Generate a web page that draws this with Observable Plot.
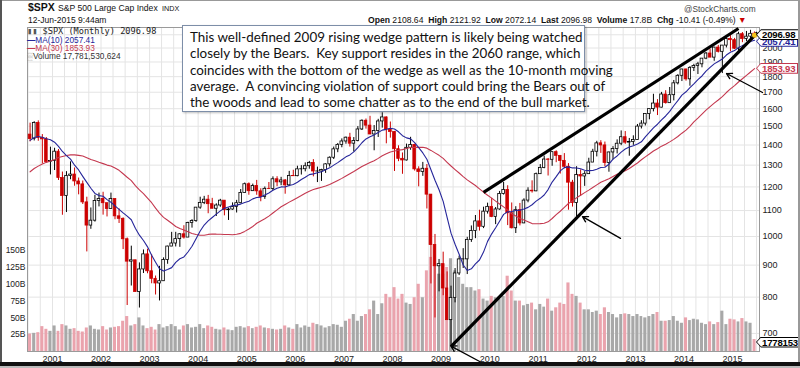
<!DOCTYPE html>
<html><head><meta charset="utf-8">
<script src="https://cdn.jsdelivr.net/npm/d3@7"></script>
<script src="https://cdn.jsdelivr.net/npm/@observablehq/plot@0.6"></script>
<style>
body{margin:0;background:#fff;}
#wrap{position:relative;width:800px;height:368px;overflow:hidden;background:#fff;font-family:"Liberation Sans",Arial,sans-serif;color:#111;}
.layer{position:absolute;left:0;top:0;}
.abs{position:absolute;white-space:nowrap;}
.box{position:absolute;height:11px;clip-path:polygon(0 50%,5px 0,100% 0,100% 100%,5px 100%);}
.box .in{position:absolute;left:1px;top:1px;right:1px;bottom:1px;background:#fff;clip-path:polygon(0 50%,4px 0,100% 0,100% 100%,4px 100%);font-size:9.6px;line-height:9px;font-weight:bold;padding-left:5px;letter-spacing:-0.2px;}
</style></head><body><div id="wrap"></div>
<script>
// ---- categories: monthly bars Jul 2000 .. Jun 2015
const months = d3.utcMonth.range(new Date(Date.UTC(2000,6,1)), new Date(Date.UTC(2015,6,1)));
const yearTicks = d3.range(2001, 2016);
const priceTicks = [700,800,900,1000,1100,1200,1300,1400,1500,1600,1700,1800,1900,2000];
const priceGrid = [700,800,900,1000,1100,1200,1300,1400,1500,1600,1700,1800,1900,2000,2100];
const volTicks = [25,50,75,100,125,150];

// ---- series values
const opens = [
1454.6,1430.8,1517.7,1436.5,1429.4,1315.2,
1320.3,1366.0,1239.9,1160.3,1249.5,1255.8,1224.4,1211.2,1133.6,1040.9,1059.8,1139.5,
1148.1,1130.2,1106.7,1147.4,1076.9,1067.1,989.8,911.6,916.1,815.3,885.8,936.3,
879.8,855.7,841.2,848.2,916.9,963.6,974.5,990.3,1008.0,996.0,1050.7,1058.2,
1111.9,1131.1,1144.9,1126.2,1107.3,1120.7,1140.8,1101.7,1104.2,1114.6,1130.2,1173.8,
1211.9,1181.3,1203.6,1180.6,1156.9,1191.5,1191.3,1234.2,1220.3,1228.8,1207.0,1249.5,
1248.3,1280.1,1280.7,1294.9,1310.6,1270.1,1270.2,1276.7,1303.8,1335.9,1377.9,1400.6,
1418.3,1438.2,1406.8,1420.9,1482.4,1530.6,1503.4,1455.3,1474.0,1526.8,1549.4,1481.1,
1468.4,1378.6,1330.6,1322.7,1385.6,1400.4,1280.0,1267.4,1282.8,1166.4,968.8,896.2,
903.3,825.9,735.1,797.9,872.8,919.1,919.3,987.5,1020.6,1057.1,1036.2,1095.6,
1115.1,1073.9,1104.5,1169.4,1186.7,1089.4,1030.7,1101.6,1049.3,1141.2,1183.3,1180.6,
1257.6,1286.1,1327.2,1325.8,1363.6,1345.2,1320.6,1292.3,1218.9,1131.4,1253.3,1247.0,
1257.6,1312.4,1365.7,1408.5,1397.9,1310.3,1362.2,1379.3,1406.6,1440.7,1412.2,1416.2,
1426.2,1498.1,1514.7,1569.2,1597.6,1630.7,1606.3,1685.7,1633.0,1681.6,1756.5,1805.8,
1848.4,1782.6,1859.5,1872.3,1883.9,1923.6,1960.2,1930.7,2003.4,1972.3,2018.1,2067.6,
2058.9,1995.0,2104.5,2067.9,2085.5,2108.64];
const highs = [
1517.3,1525.2,1530.1,1454.8,1438.5,1389.0,
1383.4,1376.9,1267.4,1269.3,1315.9,1286.6,1239.8,1226.3,1155.4,1110.6,1163.4,1173.0,
1176.6,1130.2,1173.0,1147.8,1106.6,1070.7,994.5,965.0,916.1,907.4,951.6,954.3,
935.0,864.6,895.9,924.2,965.0,1015.3,1015.4,1011.0,1040.3,1053.8,1063.7,1112.0,
1155.4,1159.0,1163.2,1150.6,1127.7,1146.3,1140.8,1109.7,1131.5,1142.0,1188.5,1217.3,
1217.9,1212.4,1229.1,1191.9,1199.6,1219.6,1245.2,1245.9,1243.1,1233.3,1270.6,1275.8,
1294.9,1297.6,1310.9,1318.2,1326.7,1290.7,1280.4,1306.8,1340.3,1389.5,1407.9,1431.8,
1441.6,1461.6,1438.9,1498.0,1535.6,1540.6,1555.9,1503.9,1538.7,1576.1,1552.8,1523.6,
1471.8,1396.0,1359.7,1404.6,1440.2,1404.1,1292.2,1313.2,1303.0,1167.0,1007.5,918.9,
943.9,877.9,833.0,888.7,930.2,956.2,996.7,1039.5,1080.2,1101.4,1113.7,1130.4,
1150.5,1112.4,1180.2,1219.8,1205.1,1131.2,1115.8,1129.2,1148.7,1196.1,1227.1,1262.6,
1302.7,1344.1,1332.3,1364.6,1370.6,1345.2,1356.5,1307.4,1229.3,1292.7,1277.6,1269.4,
1333.5,1378.0,1419.2,1422.4,1415.3,1363.5,1391.7,1426.7,1474.5,1471.0,1434.3,1448.0,
1509.9,1530.9,1570.3,1597.6,1687.2,1654.2,1698.8,1709.7,1729.9,1775.2,1813.6,1849.4,
1850.8,1867.9,1884.0,1897.3,1924.0,1968.2,1991.4,2005.0,2019.3,2018.2,2075.8,2093.6,
2072.4,2119.6,2117.5,2125.9,2134.7,2121.92];
const lows = [
1416.0,1421.0,1419.4,1305.8,1311.0,1254.1,
1274.6,1228.7,1081.2,1092.0,1232.0,1203.0,1165.5,1124.9,944.8,1026.8,1054.3,1114.9,
1081.7,1074.4,1106.7,1063.5,1049.0,952.9,775.7,833.4,815.3,768.6,872.7,871.8,
840.3,806.3,788.9,847.9,902.8,963.4,962.1,960.8,990.4,996.0,1031.2,1053.4,
1105.1,1124.4,1087.2,1107.2,1076.3,1113.3,1078.8,1060.7,1101.3,1090.2,1127.6,1173.8,
1163.8,1180.1,1163.7,1136.2,1146.2,1188.3,1183.6,1201.1,1205.4,1168.2,1201.1,1246.6,
1245.7,1253.6,1268.4,1280.7,1245.3,1219.3,1224.5,1261.3,1290.9,1327.1,1361.0,1385.9,
1404.0,1389.4,1364.0,1416.4,1476.7,1484.2,1454.3,1370.6,1439.3,1489.6,1406.1,1435.7,
1270.1,1316.8,1257.0,1320.0,1373.1,1272.0,1200.4,1247.5,1106.4,839.8,741.0,815.7,
804.2,734.5,666.8,783.3,866.1,888.9,869.3,978.5,992.0,1020.2,1029.4,1085.9,
1071.6,1044.5,1101.4,1164.5,1040.8,1028.3,1010.9,1039.7,1048.2,1131.9,1173.0,1179.0,
1257.6,1282.9,1249.1,1294.7,1311.8,1258.1,1282.9,1101.5,1114.2,1074.8,1158.7,1202.4,
1257.6,1312.4,1340.0,1357.4,1292.0,1266.7,1325.4,1354.7,1396.6,1403.3,1343.4,1398.1,
1426.2,1485.0,1501.5,1536.0,1581.3,1560.3,1604.6,1627.5,1633.0,1646.5,1746.2,1768.0,
1770.5,1737.9,1834.4,1814.4,1859.8,1916.0,1930.7,1904.8,1964.0,1820.7,2001.0,1972.6,
1988.1,1980.9,2039.7,2048.4,2067.9,2072.14];
const closes = [
1430.8,1517.7,1436.5,1429.4,1315.2,1320.3,
1366.0,1239.9,1160.3,1249.5,1255.8,1224.4,1211.2,1133.6,1040.9,1059.8,1139.5,1148.1,
1130.2,1106.7,1147.4,1076.9,1067.1,989.8,911.6,916.1,815.3,885.8,936.3,879.8,
855.7,841.2,848.2,916.9,963.6,974.5,990.3,1008.0,996.0,1050.7,1058.2,1111.9,
1131.1,1144.9,1126.2,1107.3,1120.7,1140.8,1101.7,1104.2,1114.6,1130.2,1173.8,1211.9,
1181.3,1203.6,1180.6,1156.9,1191.5,1191.3,1234.2,1220.3,1228.8,1207.0,1249.5,1248.3,
1280.1,1280.7,1294.9,1310.6,1270.1,1270.2,1276.7,1303.8,1335.9,1377.9,1400.6,1418.3,
1438.2,1406.8,1420.9,1482.4,1530.6,1503.4,1455.3,1474.0,1526.8,1549.4,1481.1,1468.4,
1378.6,1330.6,1322.7,1385.6,1400.4,1280.0,1267.4,1282.8,1166.4,968.8,896.2,903.3,
825.9,735.1,797.9,872.8,919.1,919.3,987.5,1020.6,1057.1,1036.2,1095.6,1115.1,
1073.9,1104.5,1169.4,1186.7,1089.4,1030.7,1101.6,1049.3,1141.2,1183.3,1180.6,1257.6,
1286.1,1327.2,1325.8,1363.6,1345.2,1320.6,1292.3,1218.9,1131.4,1253.3,1247.0,1257.6,
1312.4,1365.7,1408.5,1397.9,1310.3,1362.2,1379.3,1406.6,1440.7,1412.2,1416.2,1426.2,
1498.1,1514.7,1569.2,1597.6,1630.7,1606.3,1685.7,1633.0,1681.6,1756.5,1805.8,1848.4,
1782.6,1859.5,1872.3,1883.9,1923.6,1960.2,1930.7,2003.4,1972.3,2018.1,2067.6,2058.9,
1995.0,2104.5,2067.9,2085.5,2107.4,2096.98];
// closes Feb 1998 .. Jun 2000 (moving-average warm-up, off the chart)
const priorCloses = [1049.3,1101.8,1111.8,1090.8,1133.8,1120.7,957.3,1017.0,1098.7,1163.6,1229.2,
1279.6,1238.3,1286.4,1335.2,1301.8,1372.7,1328.7,1320.4,1282.7,1362.9,1388.9,1469.3,
1394.5,1366.4,1498.6,1452.4,1420.6,1454.6];
// monthly volume, billions of shares
const volumes = [
26,27,28,37,33,30,
38,30,40,38,33,34,30,29,35,38,33,32,
37,32,35,36,37,45,52,38,40,50,38,34,
36,32,40,35,37,40,37,32,38,40,35,36,
40,34,38,36,33,32,35,32,31,36,37,35,
37,34,36,38,35,34,33,32,33,38,35,33,
40,35,38,36,42,40,38,35,37,40,39,36,
45,48,55,45,52,55,62,75,55,71,85,80,
95,78,85,72,70,80,100,80,120,140,128,115,
115,125,138,120,110,100,95,95,90,92,78,75,
82,80,78,82,112,90,75,75,68,70,72,62,
70,66,78,60,65,72,70,102,85,82,72,62,
62,58,60,55,65,58,55,50,55,56,55,52,
55,52,50,52,55,58,45,45,46,52,45,42,
50,46,48,47,42,40,44,40,43,60,40,48,
47,44,49,44,42,17.78];

// annotation geometry in data units (date, price)
const wedgeLines = [
  {d1:"2009-11-16", p1:1176, d2:"2015-02-15", p2:2149},
  {d1:"2009-03-16", p1:666.8, d2:"2015-07-08", p2:2117}
];
const arrows = [
  {d1:"2009-11-01", p1:629, d2:"2009-03-16", p2:668},
  {d1:"2012-09-11", p1:993, d2:"2011-11-30", p2:1076},
  {d1:"2015-08-15", p1:1698, d2:"2014-11-17", p2:1821}
];
const noteLines = [
  "This well-defined 2009 rising wedge pattern is likely being watched",
  "closely by the Bears.\u00a0 Key support resides in the 2060 range, which",
  "coincides with the bottom of the wedge as well as the 10-month moving",
  "average.\u00a0 A convincing violation of support could bring the Bears out of",
  "the woods and lead to some chatter as to the end of the bull market."
];

// ---- build table
const allCloses = priorCloses.concat(closes);
const P = priorCloses.length;
const sma = (k, i) => d3.mean(allCloses.slice(P + i - k + 1, P + i + 1));
const data = months.map((d, i) => {
  const end = d3.utcMonth.offset(d, 1);
  return {date: d, end, mid: new Date((+d + +end) / 2), open: opens[i], high: highs[i], low: lows[i],
    close: closes[i], vol: volumes[i], up: closes[i] >= opens[i], ma10: sma(10, i), ma30: sma(30, i)};
});
const D = s => new Date(s + "T00:00:00Z");
const wedges = wedgeLines.map(w => ({x1: D(w.d1), y1: w.p1, x2: D(w.d2), y2: w.p2}));
const arrs = arrows.map(w => ({x1: D(w.d1), y1: w.p1, x2: D(w.d2), y2: w.p2}));

// ---- layout
const W = 800, H = 368;
const common = {width: W, height: H, marginLeft: 27, marginRight: 41, marginTop: 27, marginBottom: 17,
  style: {background: "transparent", overflow: "visible", fontFamily: "Liberation Sans, Arial, sans-serif"}};
const xScale = {type: "utc", domain: [new Date(Date.UTC(2000,5,27)), new Date(Date.UTC(2015,6,23))]};
const yPrice = {type: "log", domain: [655, 2157]};
const RED = "#cc0000", PINK = "#eaa3ad", GRAY = "#a8a8a8";

const gridDates = d3.utcMonth.every(3).range(new Date(Date.UTC(2000,6,1)), new Date(Date.UTC(2015,7,1)));

const gridPlot = Plot.plot({...common, x: {...xScale, axis: null}, y: {...yPrice, axis: null},
  marks: [
    Plot.ruleY(priceGrid, {stroke: "#e4e4e4"}),
    Plot.ruleX(gridDates, {stroke: "#e4e4e4"}),
    Plot.frame({stroke: "#9a9a9a"})
  ]});

const volPlot = Plot.plot({...common, x: {...xScale, axis: null}, y: {domain: [0, 482], axis: null},
  color: {type: "identity"},
  marks: [
    Plot.rect(data, {x1: "date", x2: "end", y1: 0, y2: "vol", fill: d => d.up ? GRAY : PINK, insetLeft: 0.5, insetRight: 0.5}),
    Plot.axisY({ticks: volTicks, tickFormat: d => d + "B", tickSize: 0, tickPadding: 2, fontSize: 8.5, label: null, fill: "#222"})
  ]});

const pricePlot = Plot.plot({...common, x: xScale, y: yPrice, color: {type: "identity"},
  marks: [
    Plot.ruleX(data, {x: "mid", y1: "low", y2: "high", stroke: d => d.up ? "#000" : RED, strokeWidth: 1}),
    Plot.rect(data, {x1: "date", x2: "end", y1: "open", y2: "close", fill: d => d.up ? "#fff" : RED,
      stroke: d => d.up ? "#000" : RED, strokeWidth: 0.8, insetLeft: 0.7, insetRight: 0.7}),
    Plot.line(data, {x: "mid", y: "ma30", stroke: "#c4384f", strokeWidth: 1.1}),
    Plot.line(data, {x: "mid", y: "ma10", stroke: "#26269a", strokeWidth: 1.1}),
    Plot.link(wedges, {x1: "x1", y1: "y1", x2: "x2", y2: "y2", stroke: "#000", strokeWidth: 3.2}),
    Plot.arrow(arrs, {x1: "x1", y1: "y1", x2: "x2", y2: "y2", stroke: "#000", strokeWidth: 1.3, headLength: 7, bend: 0}),
    Plot.dot([data[data.length - 1]], {x: "mid", y: "close", r: 2.5, fill: "#f5c518"}),
    Plot.axisY({anchor: "right", ticks: priceTicks, tickFormat: d => String(d), tickSize: 0, tickPadding: 3, fontSize: 9, label: null, fill: "#222"}),
    Plot.axisX({ticks: yearTicks.map(y => new Date(Date.UTC(y,0,1))), tickFormat: d => String(d.getUTCFullYear()), tickSize: 0, tickPadding: 4, fontSize: 9, label: null, fill: "#222"})
  ]});

const wrap = document.getElementById("wrap");
for (const p of [gridPlot, volPlot, pricePlot]) { p.classList.add("layer"); p.style.position = "absolute"; p.style.left = "0"; p.style.top = "0"; wrap.appendChild(p); }

function add(html, css) { const e = document.createElement("div"); e.className = "abs"; e.innerHTML = html; Object.assign(e.style, css); wrap.appendChild(e); return e; }

// header
add("<b>$SPX</b>", {left: "28px", top: "1px", fontSize: "10.5px"});
add("S&amp;P 500 Large Cap Index", {left: "58px", top: "3px", fontSize: "8.6px"});
add("INDX", {left: "162px", top: "4px", fontSize: "7.2px"});
add("12-Jun-2015 9:44am", {left: "28px", top: "15px", fontSize: "8.5px"});
add("@StockCharts.com", {left: "684px", top: "4px", fontSize: "8.3px", color: "#444"});
add('<b>Open</b> 2108.64 &nbsp;<b>High</b> 2121.92 &nbsp;<b>Low</b> 2072.14 &nbsp;<b>Last</b> 2096.98 &nbsp;<b>Volume</b> 17.8B &nbsp;<b>Chg</b> -10.41 (-0.49%) <span style="color:#c00">&#9660;</span>',
  {left: "368px", top: "15px", fontSize: "8.6px"});

// legend
add('<span style="color:#555">&#9646;&#9646;</span> $SPX (Monthly) 2096.98', {left: "27px", top: "26px", fontSize: "8.6px", fontFamily: "DejaVu Sans Mono, monospace", color: "#222"});
add('<span style="font-weight:bold">&#8212;</span>MA(10) 2057.41', {left: "27px", top: "35px", fontSize: "8.3px", color: "#26269a"});
add('<span style="font-weight:bold">&#8212;</span>MA(30) 1853.93', {left: "27px", top: "43px", fontSize: "8.3px", color: "#c4384f"});
add('<span style="color:#666">&#9617;</span>Volume 17,781,530,624', {left: "27px", top: "51px", fontSize: "8.3px", color: "#333"});

// value boxes on the right, placed with the library's scales
const ys = pricePlot.scale("y"), yv = volPlot.scale("y");
function box(txt, y, col, w) {
  const b = document.createElement("div"); b.className = "box";
  Object.assign(b.style, {left: "756px", top: (y - 5.5) + "px", width: w + "px", background: col});
  b.innerHTML = '<div class="in" style="color:' + col + '">' + txt + '</div>';
  wrap.appendChild(b);
}
box("1853.93", ys.apply(1853.93), "#c4384f", 42);
box("2057.41", ys.apply(2057.41) + 1.5, "#26269a", 42);
box("2096.98", ys.apply(2096.98), "#000", 43);
box("1778153", yv.apply(17.78) + 3, "#000", 43);

// note box
add(noteLines.join("<br>"), {left: "182px", top: "25px", width: "403px", height: "87px", boxSizing: "border-box",
  border: "1px solid #7d8ea8", background: "#fff", fontFamily: "Lato, 'Open Sans', sans-serif", fontSize: "13.4px",
  lineHeight: "16.3px", padding: "3px 0 0 7px", color: "#111", boxShadow: "1px 1px 2px rgba(0,0,0,0.25)"});

// outer borders
add("", {left: "0", top: "0", width: "800px", height: "1px", background: "#999"});
add("", {left: "0", top: "0", width: "2px", height: "368px", background: "#555"});
add("", {left: "798px", top: "0", width: "2px", height: "368px", background: "#999"});
add("", {left: "0", top: "362px", width: "800px", height: "4px", background: "#111"});
add("", {left: "0", top: "366px", width: "800px", height: "2px", background: "#bbb"});
</script></body></html>
